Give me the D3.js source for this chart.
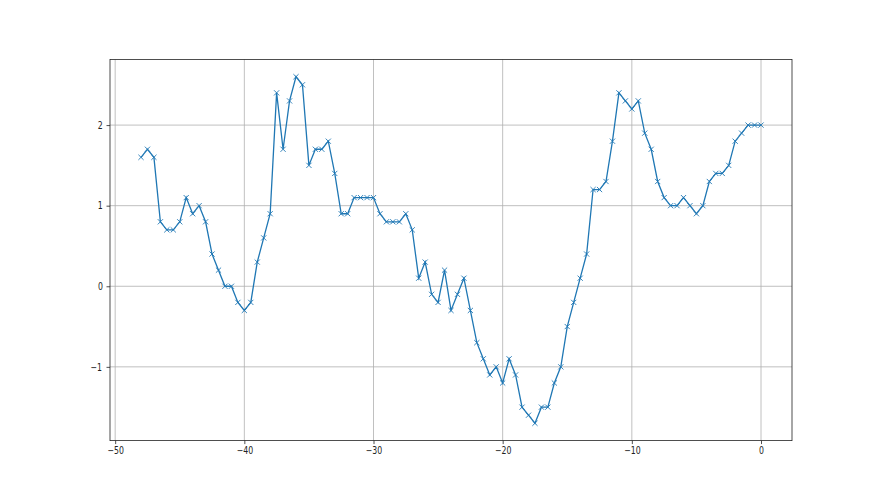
<!DOCTYPE html>
<html>
<head lang="en">
    <meta charset="UTF-8">
    <title></title>
    <script src="https://cdn.jsdelivr.net/npm/d3@7"></script>
    <style>
        body { margin: 0; background: #fff; }
        .tick text {
            font-family: "DejaVu Sans", sans-serif;
            font-size: 10px;
            fill: #222;
            transform-box: fill-box;
            transform-origin: center;
            transform: scaleX(0.78);
        }
    </style>
</head>
<body>
<div id="chart"></div>
<script>
    // x positions, half-step from -48 to 0
    var xs = [-48, -47.5, -47, -46.5, -46, -45.5, -45, -44.5, -44, -43.5, -43, -42.5, -42, -41.5, -41, -40.5,
        -40, -39.5, -39, -38.5, -38, -37.5, -37, -36.5, -36, -35.5, -35, -34.5, -34, -33.5, -33, -32.5,
        -32, -31.5, -31, -30.5, -30, -29.5, -29, -28.5, -28, -27.5, -27, -26.5, -26, -25.5, -25, -24.5,
        -24, -23.5, -23, -22.5, -22, -21.5, -21, -20.5, -20, -19.5, -19, -18.5, -18, -17.5, -17, -16.5,
        -16, -15.5, -15, -14.5, -14, -13.5, -13, -12.5, -12, -11.5, -11, -10.5, -10, -9.5, -9, -8.5,
        -8, -7.5, -7, -6.5, -6, -5.5, -5, -4.5, -4, -3.5, -3, -2.5, -2, -1.5, -1, -0.5, 0];
    var ys = [1.6, 1.7, 1.6, 0.8, 0.7, 0.7, 0.8, 1.1, 0.9, 1.0, 0.8, 0.4, 0.2, 0, 0, -0.2,
        -0.3, -0.2, 0.3, 0.6, 0.9, 2.4, 1.7, 2.3, 2.6, 2.5, 1.5, 1.7, 1.7, 1.8, 1.4, 0.9,
        0.9, 1.1, 1.1, 1.1, 1.1, 0.9, 0.8, 0.8, 0.8, 0.9, 0.7, 0.1, 0.3, -0.1, -0.2, 0.2,
        -0.3, -0.1, 0.1, -0.3, -0.7, -0.9, -1.1, -1.0, -1.2, -0.9, -1.1, -1.5, -1.6, -1.7, -1.5, -1.5,
        -1.2, -1.0, -0.5, -0.2, 0.1, 0.4, 1.2, 1.2, 1.3, 1.8, 2.4, 2.3, 2.2, 2.3, 1.9, 1.7,
        1.3, 1.1, 1.0, 1.0, 1.1, 1.0, 0.9, 1.0, 1.3, 1.4, 1.4, 1.5, 1.8, 1.9, 2.0, 2.0, 2.0];
    var xTicks = [-50, -40, -30, -20, -10, 0];
    var yTicks = [-1, 0, 1, 2];

    var W = 880, H = 495;
    var axL = 110, axR = 792, axT = 59.4, axB = 440.6;

    var data = xs.map(function(x, i){ return {x: x, y: ys[i]}; });

    var xPad = (d3.max(xs) - d3.min(xs)) * 0.05;
    var yPad = (d3.max(ys) - d3.min(ys)) * 0.05;
    var x = d3.scaleLinear()
            .domain([d3.min(xs) - xPad, d3.max(xs) + xPad])
            .range([axL, axR]);
    var y = d3.scaleLinear()
            .domain([d3.min(ys) - yPad, d3.max(ys) + yPad])
            .range([axB, axT]);

    var svg = d3.select("#chart").append("svg")
            .attr("width", W)
            .attr("height", H);

    // grid
    svg.append("g").selectAll("line").data(xTicks).enter().append("line")
            .attr("x1", function(d){ return x(d); }).attr("x2", function(d){ return x(d); })
            .attr("y1", axT).attr("y2", axB)
            .attr("stroke", "#b0b0b0").attr("stroke-width", 0.8);
    svg.append("g").selectAll("line").data(yTicks).enter().append("line")
            .attr("x1", axL).attr("x2", axR)
            .attr("y1", function(d){ return y(d); }).attr("y2", function(d){ return y(d); })
            .attr("stroke", "#b0b0b0").attr("stroke-width", 0.8);

    var fmt = function(d){ return d < 0 ? "\u2212" + Math.abs(d) : String(d); };

    var gx = svg.append("g")
            .attr("transform", "translate(0," + axB + ")")
            .call(d3.axisBottom(x).tickValues(xTicks).tickFormat(fmt).tickSizeOuter(0).tickSize(3.5).tickPadding(3));
    var gy = svg.append("g")
            .attr("transform", "translate(" + axL + ",0)")
            .call(d3.axisLeft(y).tickValues(yTicks).tickFormat(fmt).tickSizeOuter(0).tickSize(3.5).tickPadding(3));
    [gx, gy].forEach(function(g){
        g.select(".domain").remove();
        g.selectAll(".tick line").attr("stroke", "#222").attr("stroke-width", 0.8);
    });

    // series line
    var line = d3.line()
            .x(function(d){ return x(d.x); })
            .y(function(d){ return y(d.y); });
    svg.append("path")
            .datum(data)
            .attr("d", line)
            .attr("fill", "none")
            .attr("stroke", "#1f77b4")
            .attr("stroke-width", 1.3);

    // x markers
    var m = 2.6;
    svg.append("g").selectAll("path").data(data).enter().append("path")
            .attr("d", function(d){
                var cx = x(d.x), cy = y(d.y);
                return "M" + (cx - m) + "," + (cy - m) + "L" + (cx + m) + "," + (cy + m) +
                        "M" + (cx - m) + "," + (cy + m) + "L" + (cx + m) + "," + (cy - m);
            })
            .attr("stroke", "#1f77b4")
            .attr("stroke-width", 0.9);

    // frame
    svg.append("rect")
            .attr("x", axL).attr("y", axT)
            .attr("width", axR - axL).attr("height", axB - axT)
            .attr("fill", "none")
            .attr("stroke", "#222")
            .attr("stroke-width", 0.8);
</script>
</body>
</html>
